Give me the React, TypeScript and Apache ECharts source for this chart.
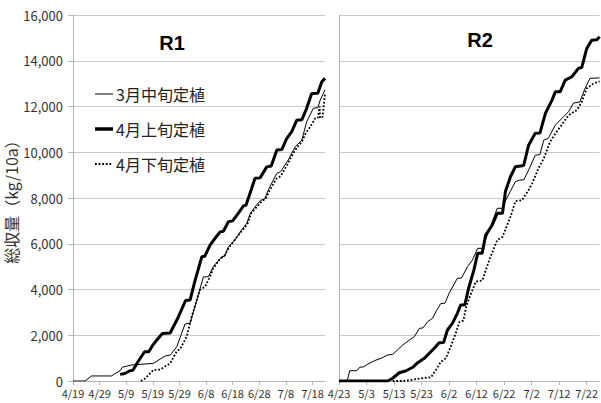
import React, { useEffect, useRef } from 'react';
import * as echarts from 'echarts';

const seriesNames = ['3月中旬定植', '4月上旬定植', '4月下旬定植'];
const panelTitles = ['R1', 'R2'];
const yAxisTitle = '総収量（kg/10a）';
const tickDays = [0, 10, 20, 30, 40, 50, 60, 70, 80, 90];
const r1TickLabels = ['4/19', '4/29', '5/9', '5/19', '5/29', '6/8', '6/18', '6/28', '7/8', '7/18'];
const r2TickLabels = ['4/23', '5/3', '5/13', '5/23', '6/2', '6/12', '6/22', '7/2', '7/12', '7/22'];

// [days since first tick date, cumulative yield kg/10a]
const r1Mid3 = [[0,0],[4.5,0],[7,220],[14.5,220],[15.5,300],[17.7,450],[18.5,600],[22,700],[30.2,770],[34.6,1090],[36.5,1130],[39,1500],[42.1,2490],[44,2530],[46.5,3540],[49,4550],[50.9,4560],[52.7,5000],[55.9,5430],[57,5450],[58.4,5870],[60.9,6160],[62.8,6520],[65.3,6890],[66.5,7300],[69,7700],[70.5,7900],[72,7950],[73.4,8350],[76.6,9080],[78,9150],[80.9,9660],[83.5,10240],[86,10530],[87.8,11330],[90.3,11920],[92,11950],[92.9,12280],[94.7,12720]];
const r1Early4 = [[17.7,290],[19.5,330],[21.4,450],[22.5,470],[24.4,840],[26.9,1280],[28.5,1280],[30,1570],[31.5,1790],[33.6,2080],[36.5,2100],[39.6,2800],[42.3,3520],[44,3540],[45.9,4410],[48.4,5430],[49.5,5450],[51.5,5940],[53.4,6240],[55.3,6520],[56.5,6550],[58.4,6960],[60,7000],[62.1,7330],[64,7650],[65,7680],[66.5,8200],[68.4,8860],[70.3,8880],[72.8,9360],[74.5,9400],[76.6,10100],[78.5,10120],[80.3,10600],[82.2,10900],[84.1,11400],[86,11420],[87.8,11920],[89.7,12570],[92,12580],[93.5,13080],[94.7,13230]];
const r1Late4 = [[25.5,0],[27,100],[30.2,480],[32.7,500],[36.5,770],[39,1300],[40.3,1400],[42.7,1940],[44.6,2810],[47.7,3980],[49.6,4120],[51.5,4560],[52.7,4920],[55,5300],[57,5500],[59,5900],[61,6200],[63,6500],[65.5,6850],[67,7350],[69,7600],[70.5,7800],[72.5,8000],[74,8350],[76.5,8850],[78,8950],[80.5,9450],[82.5,9900],[84.1,10200],[86,10450],[87.5,10850],[89.1,11100],[91,11480],[92,11500],[92.7,12000],[92.8,11500],[93.8,11550],[94.7,12550]];

const r2Mid3 = [[0,0],[3,0],[3.9,450],[6.5,450],[7.5,600],[9,620],[10.5,740],[12.9,890],[15.3,990],[17.7,1140],[19.5,1160],[21.3,1360],[23.1,1570],[25.6,1790],[27.4,1940],[29.2,2300],[30.5,2320],[32.2,2590],[34,2740],[35.2,3030],[37,3390],[38.5,3400],[40,3830],[43,4490],[44.5,4500],[46.7,5000],[48.5,5290],[50.4,5800],[52,5800],[54.6,6600],[57.5,7550],[59.4,7550],[60.6,7910],[62.3,8300],[64.1,8710],[65.5,8780],[67.2,8800],[68.9,9220],[71.3,9870],[73,9900],[74.4,10530],[76,10600],[78.6,11190],[81,11480],[83.4,11770],[85.2,12150],[87.5,12200],[89.4,12790],[91.2,13230],[94.7,13250]];
const r2Early4 = [[0,0],[17.7,0],[19.5,120],[21.9,360],[24.4,450],[26.8,600],[28.6,800],[31,990],[32.8,1210],[34.6,1430],[36.4,1670],[38,1680],[39.4,2230],[41.2,2520],[43,2960],[44.2,3320],[45.7,3330],[47.2,4100],[49,4850],[50.4,5580],[52,5580],[53.3,6380],[55.7,6820],[57.5,7330],[59.4,7330],[60.5,8300],[62.3,8930],[64.1,9370],[67.1,9420],[68.9,10310],[71.3,10830],[73,10840],[75,11700],[77.4,12280],[78.6,12640],[80.4,12650],[82.2,13150],[84.6,13300],[87,13670],[88.2,13700],[90,14530],[91.8,14900],[93.7,14920],[94.7,15050]];
const r2Late4 = [[19.5,0],[23,0],[26.1,40],[29.8,120],[33.4,160],[35.2,480],[37,840],[38.8,990],[40.6,1500],[42.4,2080],[43.8,2590],[45.2,2640],[46.3,3300],[47.5,3680],[49.7,4340],[52.1,4400],[54.6,5290],[57.5,6160],[59.4,6300],[62.3,7180],[64.1,7860],[66.5,7900],[68.9,8350],[70.2,8640],[72.5,9300],[74.4,9730],[76.7,10460],[79.1,10900],[80.9,11190],[83.4,11620],[86.4,11840],[88.2,12200],[90,12790],[92.4,13000],[94.7,13100]];

const FONT = '"Noto Sans CJK JP", "Noto Sans", sans-serif';
const GRID = '#c9c9c9';
const AXIS = '#b5b5b5';

const styles = [
  { width: 1, type: 'solid' as any, dash: null as any },
  { width: 3, type: 'solid' as any, dash: null as any },
  { width: 1.8, type: [1.8, 1.8] as any, dash: [1.8, 1.8] },
];

export default function App() {
  const ref = useRef<HTMLDivElement>(null);
  useEffect(() => {
    if (!ref.current) return;
    const chart = echarts.init(ref.current, null, { renderer: 'svg' });
    const xAxisFor = (idx: number, labels: string[]) => ({
      type: 'value',
      gridIndex: idx,
      min: 0,
      max: 94.7,
      interval: 10,
      axisLine: { show: true, lineStyle: { color: AXIS, width: 1 } },
      axisTick: { show: true, length: 4, lineStyle: { color: AXIS }, customValues: tickDays },
      axisLabel: {
        customValues: tickDays,
        formatter: (v: number) => labels[Math.round(v / 10)] ?? '',
        fontSize: 11,
        color: '#333',
        fontFamily: FONT,
        margin: 6,
      },
      splitLine: { show: false },
    });
    const yAxisFor = (idx: number, showLabels: boolean) => ({
      type: 'value',
      gridIndex: idx,
      min: 0,
      max: 16000,
      interval: 2000,
      name: showLabels ? yAxisTitle : '',
      nameLocation: 'middle',
      nameGap: 51,
      nameTextStyle: { fontSize: 16, color: '#333', fontFamily: FONT },
      axisLine: { show: true, lineStyle: { color: AXIS, width: 1 } },
      axisTick: { show: showLabels, length: 5, lineStyle: { color: AXIS } },
      axisLabel: {
        show: showLabels,
        fontSize: 13,
        color: '#333',
        fontFamily: FONT,
        margin: 10,
        formatter: (v: number) => v.toLocaleString('en-US'),
      },
      splitLine: { show: true, lineStyle: { color: GRID, width: 1 } },
    });
    const mk = (name: string, data: number[][], i: number, axisIdx: number) => ({
      type: 'line',
      name,
      data,
      xAxisIndex: axisIdx,
      yAxisIndex: axisIdx,
      symbol: 'none',
      lineStyle: { color: '#000', width: styles[i].width, type: styles[i].type },
      itemStyle: { color: '#000' },
    });
    const legendRowsY = [94, 129, 164];
    const legendGraphics: any[] = [];
    seriesNames.forEach((name, i) => {
      const y = legendRowsY[i];
      legendGraphics.push({
        type: 'line',
        shape: { x1: 95, y1: y, x2: 113, y2: y },
        style: { stroke: '#000', lineWidth: i === 1 ? 3.5 : styles[i].width, lineDash: styles[i].dash },
      });
      legendGraphics.push({
        type: 'text',
        x: 116,
        y,
        style: { text: name, fontSize: 16, fontFamily: FONT, fill: '#222', textAlign: 'left', textVerticalAlign: 'middle' },
      });
    });
    chart.setOption({
      animation: false,
      backgroundColor: '#fff',
      grid: [
        { left: 73, right: 276, top: 15, bottom: 22 },
        { left: 339, right: 0, top: 15, bottom: 22 },
      ],
      xAxis: [xAxisFor(0, r1TickLabels), xAxisFor(1, r2TickLabels)],
      yAxis: [yAxisFor(0, true), yAxisFor(1, false)],
      graphic: [
        { type: 'text', x: 172, y: 43, style: { text: panelTitles[0], fontSize: 20, fontWeight: 'bold', fontFamily: '"Liberation Sans", Arial, sans-serif', fill: '#000', textAlign: 'center', textVerticalAlign: 'middle' } },
        { type: 'text', x: 480, y: 40, style: { text: panelTitles[1], fontSize: 20, fontWeight: 'bold', fontFamily: '"Liberation Sans", Arial, sans-serif', fill: '#000', textAlign: 'center', textVerticalAlign: 'middle' } },
        ...legendGraphics,
      ],
      series: [
        mk(seriesNames[0], r1Mid3, 0, 0),
        mk(seriesNames[1], r1Early4, 1, 0),
        mk(seriesNames[2], r1Late4, 2, 0),
        mk(seriesNames[0], r2Mid3, 0, 1),
        mk(seriesNames[1], r2Early4, 1, 1),
        mk(seriesNames[2], r2Late4, 2, 1),
      ],
    });
    return () => chart.dispose();
  }, []);
  return <div ref={ref} style={{ width: 601, height: 403, position: 'absolute', left: 0, top: 0 }} />;
}
